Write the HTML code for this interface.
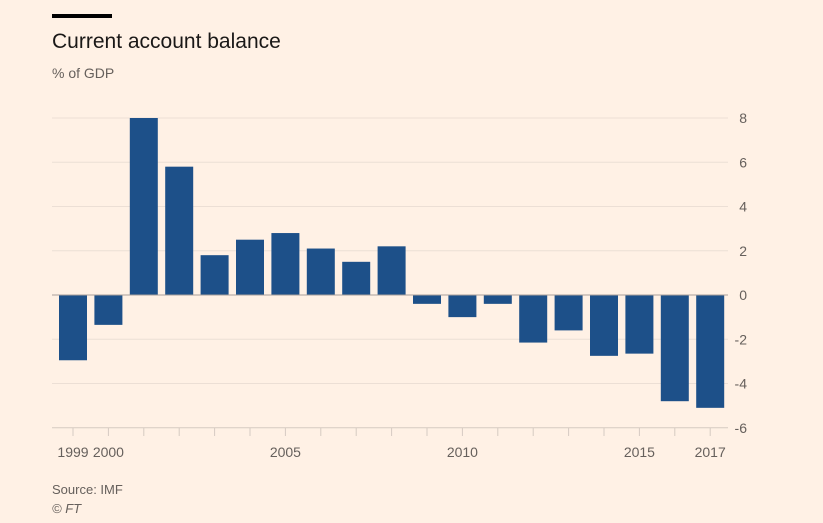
<!DOCTYPE html>
<html><head><meta charset="utf-8"><style>
body{margin:0;background:#fff1e5;font-family:"Liberation Sans",sans-serif;}
#c{position:relative;width:823px;height:523px;overflow:hidden;background:#fff1e5}
</style></head><body>
<div id="c">
<svg width="823" height="523">
<rect x="52" y="14" width="60" height="4" fill="#000"/>
<text x="52" y="48" font-size="21" fill="#1a1817">Current account balance</text>
<text x="52" y="78" font-size="14" fill="#66605c">% of GDP</text>
<g id="grid"></g><g id="bars"></g><g id="axes"></g>
<text x="52" y="494" font-size="13" fill="#66605c">Source: IMF</text>
<text x="52" y="513" font-size="13" font-style="italic" fill="#66605c">© FT</text>
</svg></div>
<script>
const years=[1999,2000,2001,2002,2003,2004,2005,2006,2007,2008,2009,2010,2011,2012,2013,2014,2015,2016,2017];
const values=[-2.95,-1.35,8.0,5.8,1.8,2.5,2.8,2.1,1.5,2.2,-0.4,-1.0,-0.4,-2.15,-1.6,-2.75,-2.65,-4.8,-5.1];
const yTicks=[8,6,4,2,0,-2,-4,-6];
const xLabels=[1999,2000,2005,2010,2015,2017];
const NS='http://www.w3.org/2000/svg';
const y=v=>295-v*22.125;
const x=yr=>73+(yr-1999)*35.4;
function mk(t,a,p){const e=document.createElementNS(NS,t);for(const k in a)e.setAttribute(k,a[k]);p.appendChild(e);return e;}
const g=document.getElementById('grid'),b=document.getElementById('bars'),ax=document.getElementById('axes');
yTicks.forEach(v=>{
 const l=mk('line',{x1:52,x2:728,y1:y(v),y2:y(v),stroke:v===0?'#a8a09a':(v===-6?'#d6cbc2':'#ecdfd5'),'stroke-width':1},g);
 
 
 const t=mk('text',{x:747,y:y(v)+5,'font-size':14,fill:'#66605c','text-anchor':'end'},ax);
 t.textContent=v;
 
 
});
years.forEach((yr,i)=>{
 const v=values[i];
 const r=mk('rect',{x:x(yr)-14,width:28,y:Math.min(y(v),y(0)),height:Math.abs(y(v)-y(0)),fill:'#1d5089'},b);
 
 
 const tk=mk('line',{x1:x(yr),x2:x(yr),y1:428,y2:436,stroke:'#d6cbc2'},ax);
 
 
});
const z=mk('line',{x1:52,x2:728,y1:y(0),y2:y(0),stroke:'#a8a09a'},ax);


xLabels.forEach(yr=>{
 const t=mk('text',{x:x(yr),y:457,'font-size':14,fill:'#66605c','text-anchor':'middle'},ax);
 t.textContent=yr;
 
 
});
</script></body></html>
